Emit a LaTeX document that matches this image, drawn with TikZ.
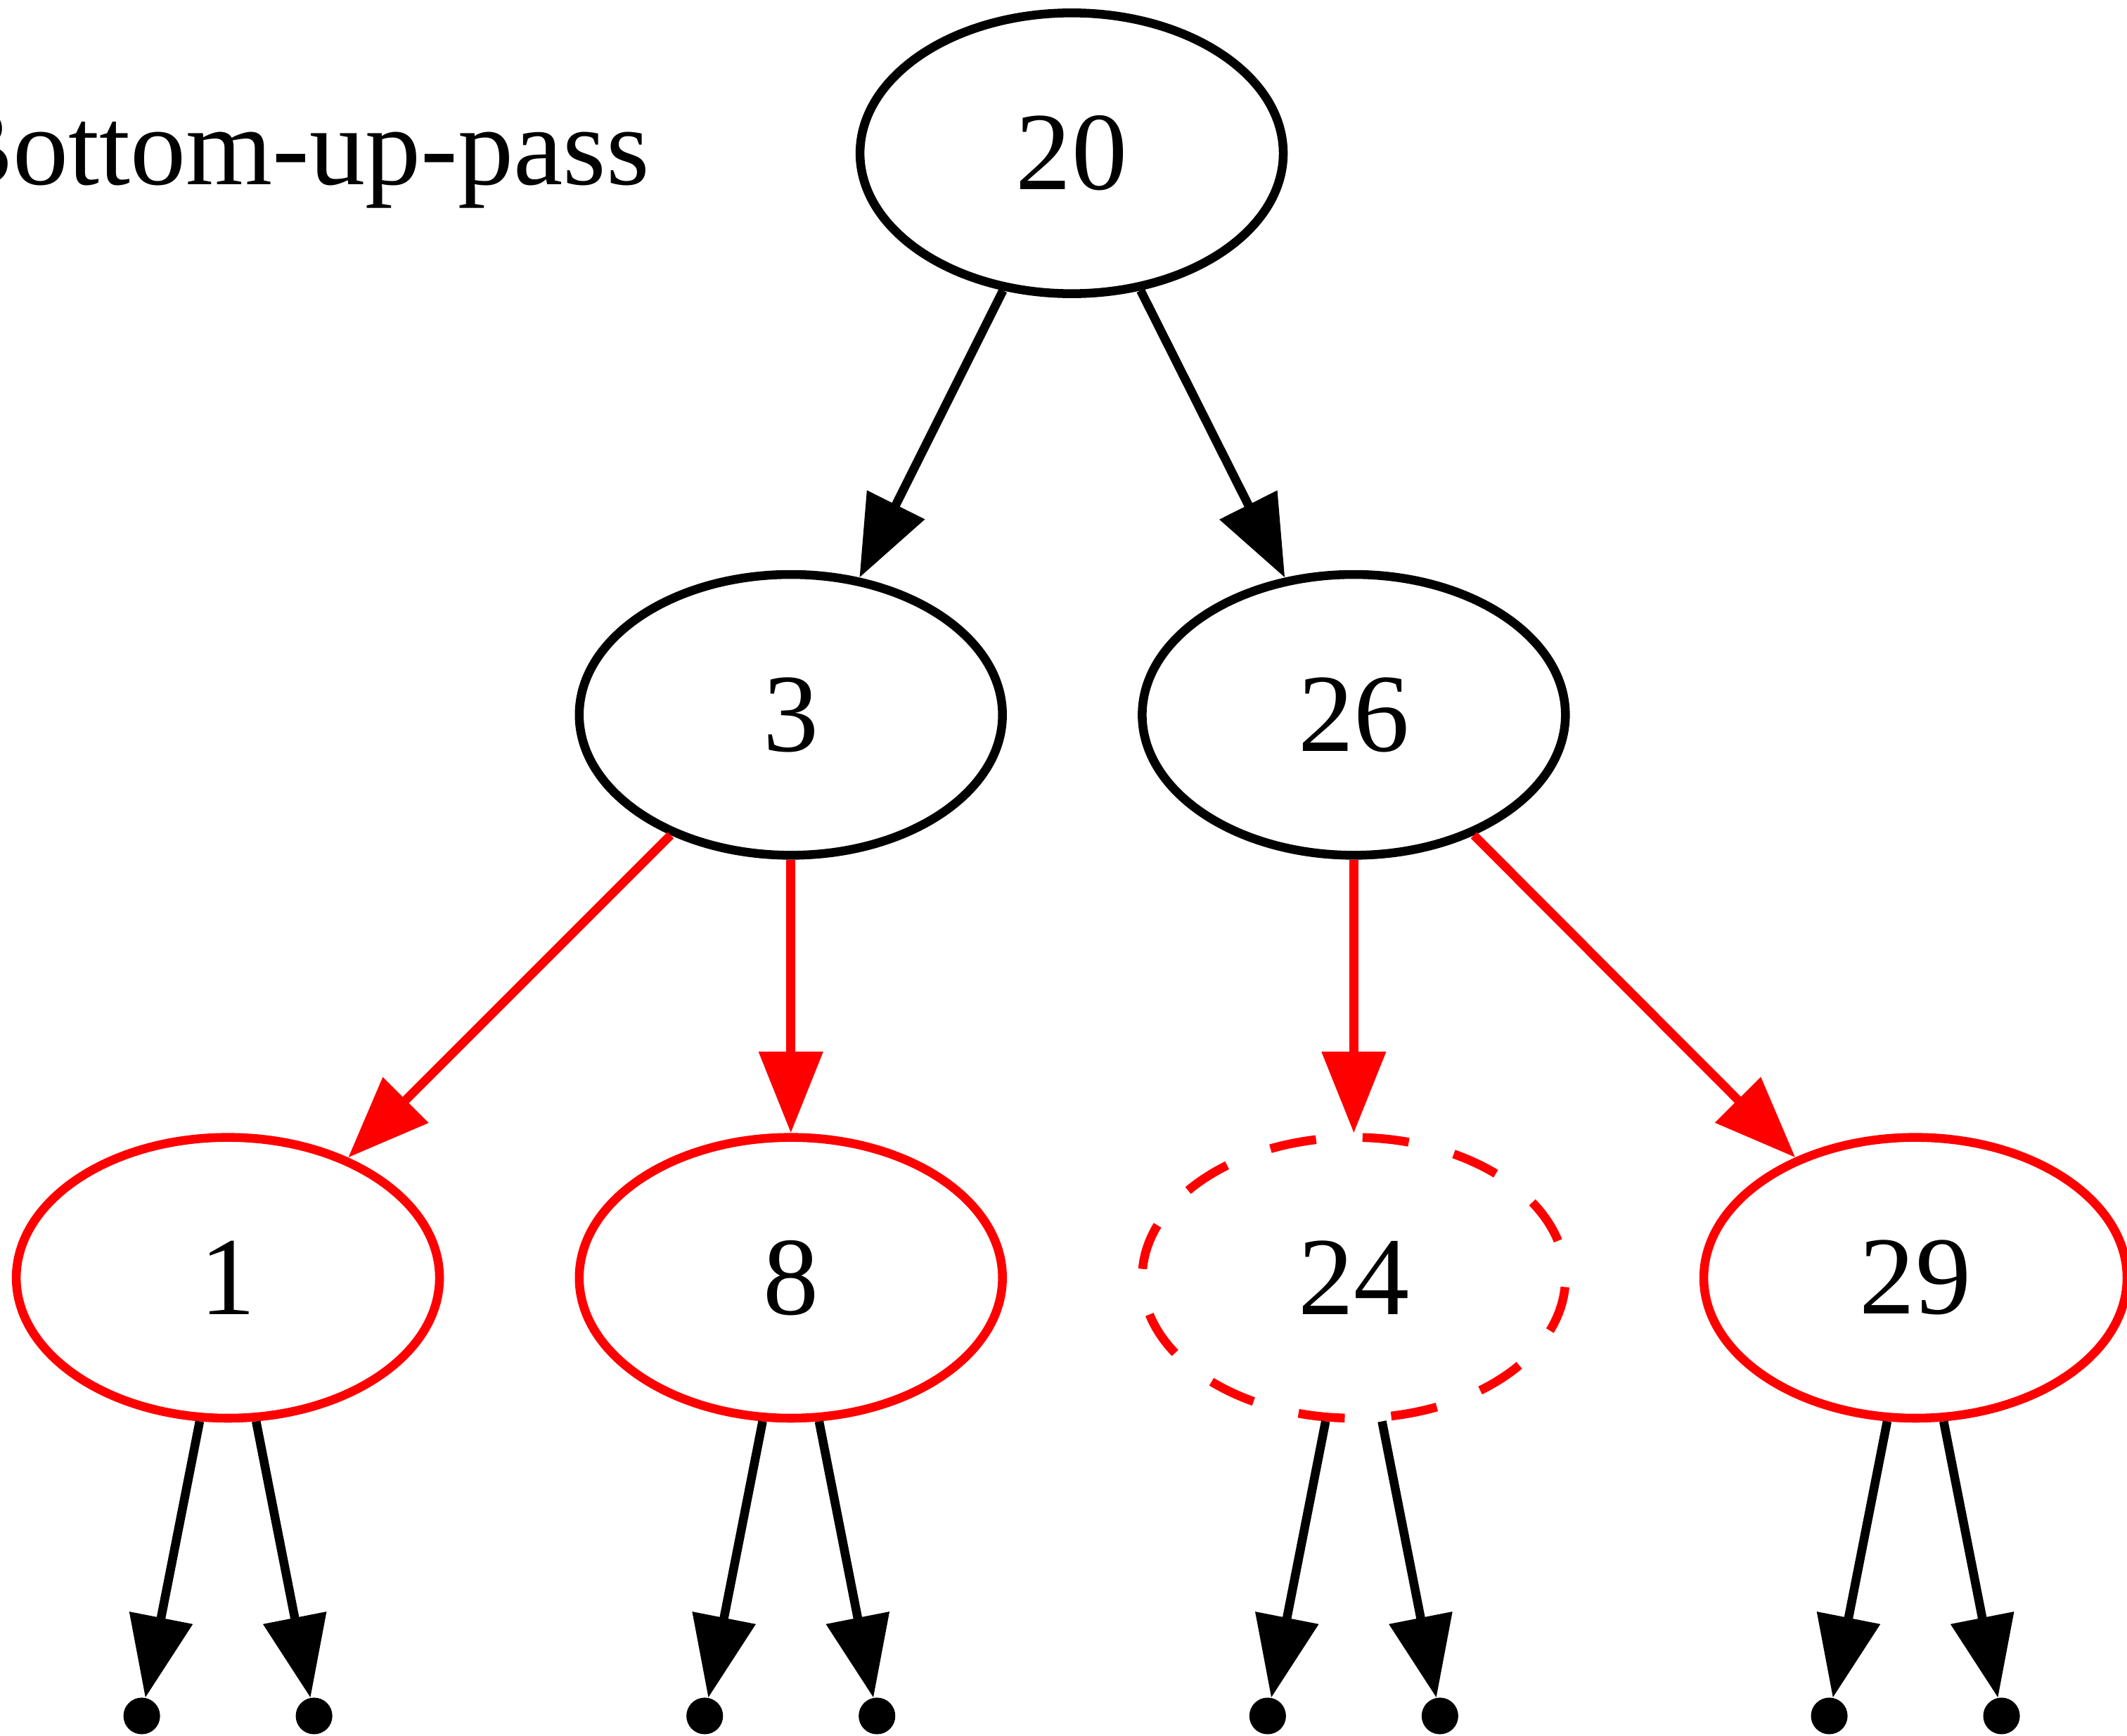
\documentclass[tikz,border=0pt]{standalone}
\usepackage{fontspec}
\setmainfont{Liberation Serif}
\usetikzlibrary{shapes.geometric,arrows.meta}
\begin{document}
\begin{tikzpicture}[x=1pt,y=-1pt,
  tnode/.style={ellipse,draw,line width=6.5pt,inner sep=0pt,minimum width=312pt,minimum height=207pt,font=\fontsize{82}{98}\selectfont},
  rnode/.style={tnode,draw=red},
  leaf/.style={circle,fill=black,inner sep=0pt,minimum size=27pt},
  edge/.style={line width=6.5pt,-{Triangle[length=60pt,width=46pt]}},
  redge/.style={edge,draw=red,fill=red}]
\fill[white] (0,0) rectangle (1568,1279.3);
\useasboundingbox (0,0) rectangle (1568,1279.3);
\node[anchor=base east,inner sep=0pt,font=\fontsize{82}{98}\selectfont] (title) at (479,136) {Bottom-up-pass};
\node[tnode] (n20) at (790,113) {20};
\node[tnode] (n3) at (583,527) {3};
\node[tnode] (n26) at (998,527) {26};
\node[rnode] (n1) at (168,942) {1};
\node[rnode] (n8) at (583,942) {8};
\node[rnode,dash pattern=on 34.3pt off 34.3pt,dash phase=40.6pt] (n24) at (998,942) {24};
\node[rnode] (n29) at (1412,942) {29};
\foreach \n/\x in {1/168,8/583,24/998,29/1412}{
  \node[leaf] (l\n a) at (\x-63.5,1265) {};
  \node[leaf] (l\n b) at (\x+63.5,1265) {};
  \draw[edge] (n\n) -- (l\n a);
  \draw[edge] (n\n) -- (l\n b);
}
\draw[edge] (n20) -- (n3);
\draw[edge] (n20) -- (n26);
\draw[redge] (n3) -- (n1);
\draw[redge] (n3) -- (n8);
\draw[redge] (n26) -- (n24);
\draw[redge] (n26) -- (n29);
\end{tikzpicture}
\end{document}
